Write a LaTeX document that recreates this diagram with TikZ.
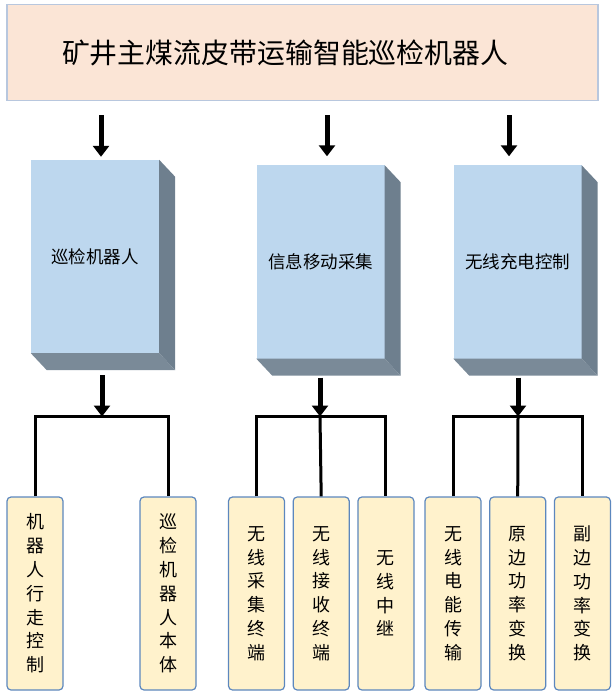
\documentclass[tikz,border=0pt]{standalone}
\usepackage{fontspec}
\setmainfont{Noto Sans CJK SC}
\usetikzlibrary{positioning}
\usetikzlibrary{arrows.meta,calc}
\definecolor{bannerfill}{RGB}{251,229,214}
\definecolor{bannerline}{RGB}{184,199,222}
\definecolor{blockfront}{RGB}{189,215,238}
\definecolor{blockside}{RGB}{110,127,142}
\definecolor{blockbottom}{RGB}{122,138,152}
\definecolor{leaffill}{RGB}{255,242,204}
\definecolor{leafline}{RGB}{92,135,190}
\tikzset{
    plan/.style={x=1pt,y=-1pt,node distance=7.5pt},
    banner/.style={rectangle, draw=bannerline, fill=bannerfill, line width=1.5pt,
                   minimum width=591pt, minimum height=96pt, inner sep=0pt,
                   text width=481pt, align=left, font=\fontsize{27.9}{30}\selectfont},
    block/.style={rectangle, fill=blockfront, minimum width=128pt, minimum height=193pt,
                  inner sep=0pt, font=\fontsize{17.5}{20}\selectfont},
    leaf/.style={rectangle, rounded corners=4pt, draw=leafline, fill=leaffill, line width=1.2pt,
                 minimum width=56pt, minimum height=193pt, inner sep=0pt, align=center,
                 font=\fontsize{18}{23.8}\selectfont},
    feed/.style={line width=5pt, -{Triangle[width=16pt,length=11pt]}},
    branch/.style={line width=3pt},
    }

\begin{document}
\begin{tikzpicture}[plan]
            \useasboundingbox (0,0) rectangle (614,700);

            \node[banner] (banner) at (302.5,52.5) {矿井主煤流皮带运输智能巡检机器人};

            \node[block] (robot) at (95,256.5) {巡检机器人};
            \node[block] (info) at (320.5,262) {信息移动采集};
            \node[block] (charge) at (517.5,262) {无线充电控制};
            % side and bottom faces of the blocks
            \foreach \b in {robot,info,charge}{
                \fill[blockside] (\b.north east) -- ++(16,17) -- ($(\b.south east)+(16,17)$) -- (\b.south east) -- cycle;
                \fill[blockbottom] (\b.south west) -- (\b.south east) -- ++(16,17) -- ($(\b.south west)+(16,17)$) -- cycle;
            }

            \node[leaf] (walk) at (35,593.5) {机\\器\\人\\行\\走\\控\\制};
            \node[leaf] (body) at (168,593.5) {巡\\检\\机\\器\\人\\本\\体};
            \node[leaf] (collect) at (256.5,593.5) {无\\线\\采\\集\\终\\端};
            \node[leaf] (receive) [right=of collect] {无\\线\\接\\收\\终\\端};
            \node[leaf] (relay) [right=of receive] {无\\线\\中\\继};
            \node[leaf] (transfer) at (453,593.5) {无\\线\\电\\能\\传\\输};
            \node[leaf] (primary) [right=of transfer] {原\\边\\功\\率\\变\\换};
            \node[leaf] (secondary) [right=of primary] {副\\边\\功\\率\\变\\换};

            \coordinate (t1) at (101,0);
            \coordinate (t2) at (327,0);
            \coordinate (t3) at (509,0);
            \coordinate (j1) at (102,416.5);
            \coordinate (j2) at (320,416.5);
            \coordinate (j3) at (518,416.5);

            \draw[feed, shorten <=14pt, shorten >=3pt] (banner.south -| t1) -- (t1 |- robot.north);
            \draw[feed, shorten <=14pt, shorten >=9pt] (banner.south -| t2) -- (t2 |- info.north);
            \draw[feed, shorten <=14pt, shorten >=9pt] (banner.south -| t3) -- (t3 |- charge.north);

            \draw[feed, shorten <=22pt] (robot.south -| j1) -- (j1);
            \draw[feed, shorten <=19pt] (info.south -| j2) -- (j2);
            \draw[feed, shorten <=19pt] (charge.south -| j3) -- (j3);

            \draw[branch] (walk.north) |- (j1) -| (body.north);
            \draw[branch] (collect.north) |- (j2) -| (relay.north);
            \draw[branch] (j2) -- (receive.north);
            \draw[branch] (transfer.north) |- (j3) -| (secondary.north);
            \draw[branch] (j3) -- (primary.north);
        \end{tikzpicture}
\end{document}
